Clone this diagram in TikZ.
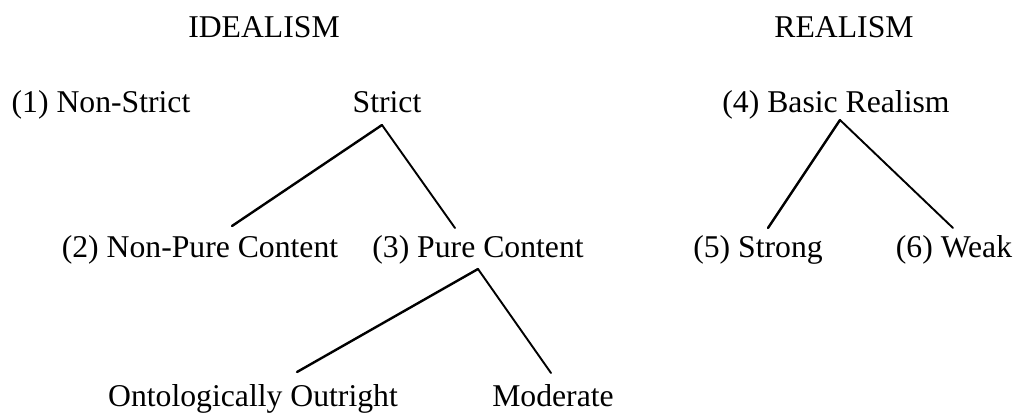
\documentclass[tikz,border=0pt]{standalone}
\usepackage{fontspec}
\setmainfont{Liberation Serif}
\begin{document}
\begin{tikzpicture}[x=1pt,y=-1pt,
  lbl/.style={anchor=base,inner sep=0pt,font=\fontsize{31.7}{38}\selectfont},
  branch/.style={line width=2.4pt,line cap=round},
  thinbranch/.style={line width=1.9pt,line cap=round}]
\useasboundingbox (0,0) rectangle (1017,413);
% headings
\node[lbl] (ideal) at (264,37) {IDEALISM};
\node[lbl] (real) at (844,37) {REALISM};
% first row
\node[lbl] (nonstrict) at (101,112) {(1) Non-Strict};
\node[lbl] (strict) at (387,112) {Strict};
\node[lbl] (basic) at (836,112) {(4) Basic Realism};
% second row
\node[lbl] (nonpure) at (200,257) {(2) Non-Pure Content};
\node[lbl] (pure) at (478,257) {(3) Pure Content};
\node[lbl] (strong) at (758,257) {(5) Strong};
\node[lbl] (weak) at (954,257) {(6) Weak};
% third row
\node[lbl] (onto) at (253,406) {Ontologically Outright};
\node[lbl] (moder) at (553,406) {Moderate};
% connector points
\coordinate (strictA) at (382,125);
\coordinate (nonpureT) at (232,226);
\coordinate (pureT) at (455,228);
\coordinate (basicA) at (840,120);
\coordinate (strongT) at (768,228);
\coordinate (weakT) at (953,228);
\coordinate (pureA) at (478,269);
\coordinate (ontoT) at (297,372);
\coordinate (moderT) at (551,373);
% connectors
\draw[branch] (strictA) -- (nonpureT);
\draw[thinbranch] (strictA) -- (pureT);
\draw[branch] (basicA) -- (strongT);
\draw[thinbranch] (basicA) -- (weakT);
\draw[branch] (pureA) -- (ontoT);
\draw[thinbranch] (pureA) -- (moderT);
\end{tikzpicture}
\end{document}
